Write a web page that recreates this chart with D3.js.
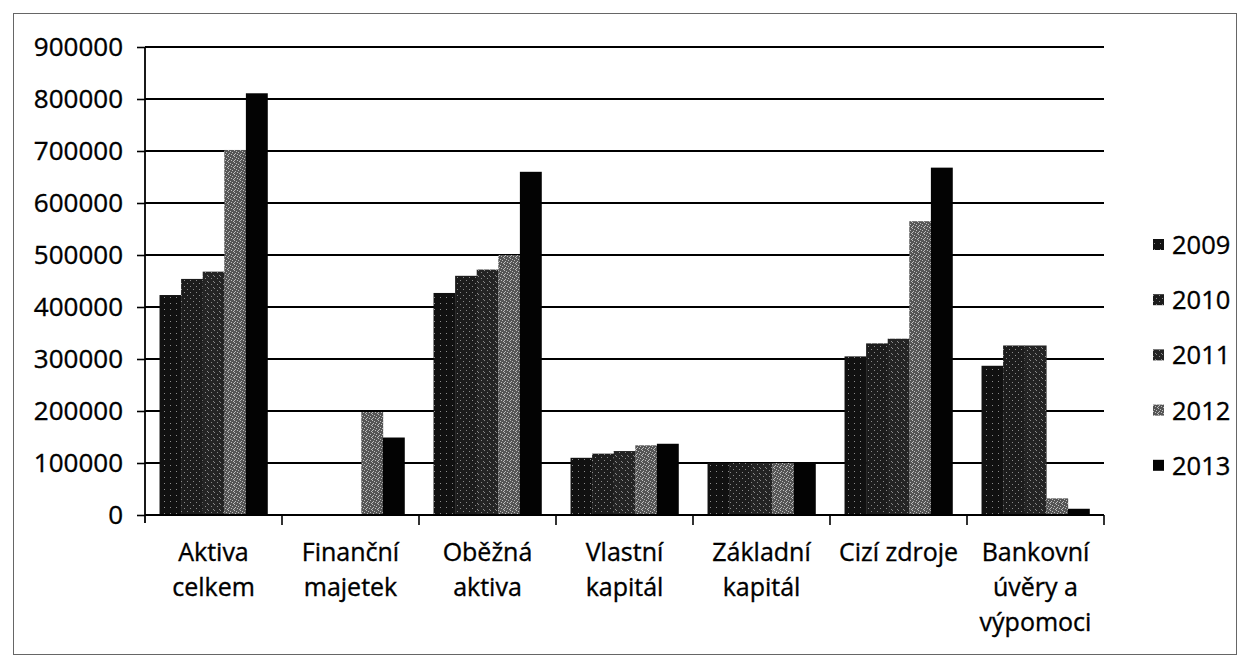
<!DOCTYPE html>
<html><head><meta charset="utf-8">
<script src="https://cdn.jsdelivr.net/npm/d3@7/dist/d3.min.js"></script>
<style>body{margin:0;background:#fff}svg{display:block}</style>
</head><body>
<svg id="c" width="1249" height="669"></svg>
<script>
const categories = ["Aktiva celkem","Finanční majetek","Oběžná aktiva","Vlastní kapitál","Základní kapitál","Cizí zdroje","Bankovní úvěry a výpomoci"];
const categoryLines = [["Aktiva","celkem"],["Finanční","majetek"],["Oběžná","aktiva"],["Vlastní","kapitál"],["Základní","kapitál"],["Cizí zdroje"],["Bankovní","úvěry a","výpomoci"]];
const years = ["2009","2010","2011","2012","2013"];
const v2009 = [423000, 0, 427000, 110000, 100000, 305000, 287000];
const v2010 = [454000, 0, 460000, 118000, 100000, 330000, 326000];
const v2011 = [468000, 0, 472000, 123000, 100000, 339000, 326000];
const v2012 = [702000, 198000, 500000, 134000, 100000, 565000, 32000];
const v2013 = [811000, 149000, 660000, 137000, 100000, 668000, 12000];
const series = [v2009, v2010, v2011, v2012, v2013];
const yTicks = [0,100000,200000,300000,400000,500000,600000,700000,800000,900000];

const svg = d3.select("#c");
const font = "'Open Sans', sans-serif";
const L = 145, R = 1104, T = 47, B = 515;

// patterns
const defs = svg.append("defs");
const fills = ["#111","#1c1c1c","#242424","#555","#030303"];
const dotSpecs = [
  [[2,3]],
  [[1,1],[4,4]],
  [[1,2],[4,0],[3,5]],
  [[0,0],[2,1],[4,2],[1,3],[3,4],[5,5],[0,4]],
  []
];
years.forEach((y,i)=>{
  const p = defs.append("pattern").attr("id","p"+i).attr("patternUnits","userSpaceOnUse").attr("width",6).attr("height",6);
  p.append("rect").attr("width",6).attr("height",6).attr("fill",fills[i]);
  dotSpecs[i].forEach(d=>p.append("rect").attr("x",d[0]).attr("y",d[1]).attr("width",1).attr("height",1).attr("fill", i===3?"#bdbdbd":"#8a8a8a"));
});

// outer border
svg.append("rect").attr("x",13.5).attr("y",13.5).attr("width",1223).attr("height",641).attr("fill","none").attr("stroke","#666").attr("stroke-width",1);

const y = d3.scaleLinear().domain([0,900000]).range([B,T]);
const x0 = d3.scaleBand().domain(categories).range([L,R]).padding(0);
const bw = x0.bandwidth();
const x1 = d3.scaleBand().domain(years).range([bw*0.106, bw*0.894]).padding(0);

// gridlines
svg.append("g").selectAll("line").data(yTicks.slice(1)).join("line")
  .attr("x1",L).attr("x2",R).attr("y1",d=>y(d)).attr("y2",d=>y(d))
  .attr("stroke","#000").attr("stroke-width",1.8);

// bars
const g = svg.append("g");
categories.forEach((c,ci)=>{
  years.forEach((yr,si)=>{
    const v = series[si][ci];
    if (v<=0) return;
    g.append("rect").attr("x",x0(c)+x1(yr)).attr("width",x1.bandwidth()+0.3)
      .attr("y",y(v)).attr("height",y(0)-y(v)).attr("fill","url(#p"+si+")");
  });
});

// y axis
const yAxis = d3.axisLeft(y).tickValues(yTicks).tickSize(8).tickPadding(14).tickFormat(d3.format("d"));
const ya = svg.append("g").attr("transform",`translate(${L},0)`).call(yAxis);
ya.select(".domain").remove();
ya.selectAll(".tick line").attr("stroke","#000").attr("stroke-width",1.6);
ya.selectAll("text").attr("font-family",font).attr("font-size",26).attr("fill","#000")
  .attr("stroke","#000").attr("stroke-width",0.35);
svg.append("line").attr("x1",L).attr("x2",L).attr("y1",T).attr("y2",B+8).attr("stroke","#000").attr("stroke-width",1.8);

// x axis
svg.append("line").attr("x1",L).attr("x2",R).attr("y1",B).attr("y2",B).attr("stroke","#000").attr("stroke-width",1.8);
const bounds = categories.map(c=>x0(c)).concat([R]);
svg.append("g").selectAll("line").data(bounds.slice(1)).join("line")
  .attr("x1",d=>d).attr("x2",d=>d).attr("y1",B).attr("y2",B+10).attr("stroke","#000").attr("stroke-width",1.6);

// category labels
categories.forEach((c,ci)=>{
  const t = svg.append("text").attr("x",x0(c)+bw/2).attr("y",561).attr("text-anchor","middle")
    .attr("font-family",font).attr("font-size",25).attr("fill","#000")
    .attr("stroke","#000").attr("stroke-width",0.35);
  categoryLines[ci].forEach((ln,li)=>t.append("tspan").attr("x",x0(c)+bw/2).attr("dy",li===0?0:35).text(ln));
});

// legend
const lg = svg.append("g");
years.forEach((yr,i)=>{
  const cy = 245 + i*55.2;
  lg.append("rect").attr("x",1153).attr("y",cy-6).attr("width",11).attr("height",11).attr("fill","url(#p"+i+")");
  lg.append("text").attr("x",1172).attr("y",cy+9).attr("font-family",font).attr("font-size",25.5).attr("fill","#000")
    .attr("stroke","#000").attr("stroke-width",0.35).text(yr);
});
</script>
</body></html>
